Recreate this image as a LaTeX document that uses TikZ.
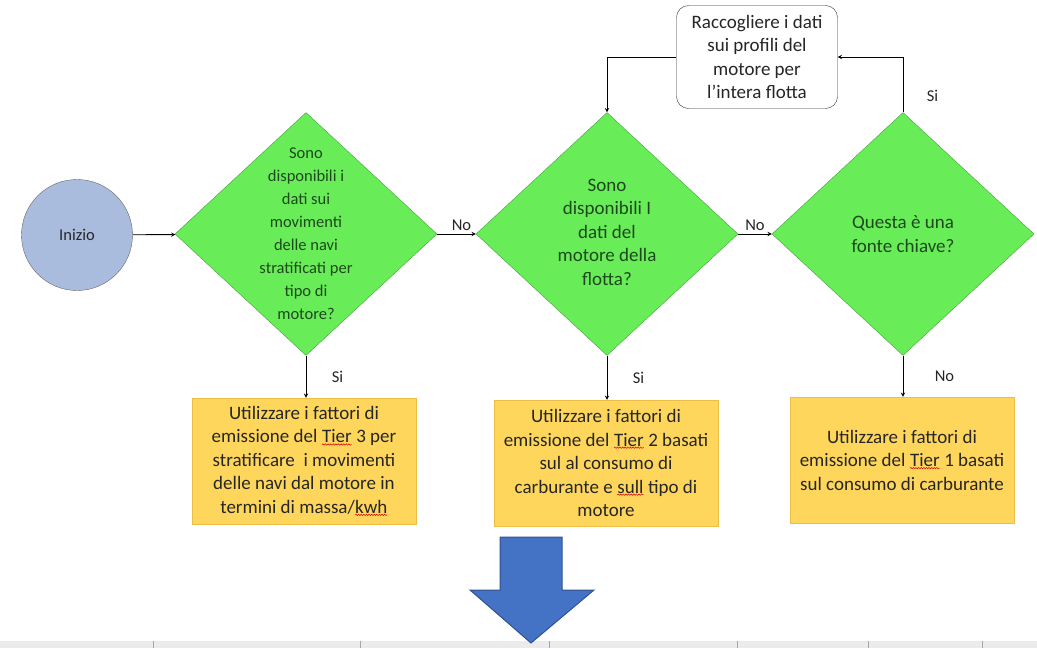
\documentclass[tikz,border=0pt]{standalone}
\usepackage{fontspec}
\setmainfont{Carlito}
\usepackage{tikz}
\usetikzlibrary{shapes.geometric, arrows, decorations.pathmorphing}
\definecolor{qgreen}{RGB}{104,236,88}
\definecolor{qgreenline}{RGB}{70,160,60}
\definecolor{qtextcol}{RGB}{30,72,30}
\definecolor{tyellow}{RGB}{255,214,92}
\definecolor{tyellowline}{RGB}{236,190,70}
\definecolor{sblue}{RGB}{170,188,222}
\definecolor{bigblue}{RGB}{68,114,196}
\definecolor{bigblueline}{RGB}{47,82,143}
\tikzstyle{arrow} = [line width=0.9pt,->,>=stealth]
\tikzstyle{txt} = [align=center, text=black!85, font=\fontsize{19}{23.5}\selectfont]
\tikzstyle{lbl} = [text=black!85, font=\fontsize{16.5}{20}\selectfont]
\tikzstyle{qtxt} = [txt, text=qtextcol]
\tikzstyle{startnode} = [circle, draw=black!60, fill=sblue, minimum size=111pt, txt, font=\fontsize{16.5}{20}\selectfont]
\tikzstyle{decision} = [diamond, draw=qgreenline, fill=qgreen, minimum width=262pt, minimum height=243pt, inner sep=0pt]
\tikzstyle{tierbox} = [rectangle, draw=tyellowline, fill=tyellow, minimum width=224pt, minimum height=126pt, txt]
\tikzstyle{collectbox} = [rectangle, rounded corners=12pt, draw=black!80, fill=white, minimum width=161pt, minimum height=103pt, txt]
% red spell-check wave under a word
\newcommand{\spellmark}[1]{\tikz[baseline=(sw.base)]{\node[shape=rectangle, inner sep=0pt, outer sep=0pt, minimum width=0pt, minimum height=0pt, draw=none, fill=none, align=left] (sw) {#1};
	\draw[red!85!black, line width=0.5pt, decorate, decoration={snake, amplitude=0.7pt, segment length=2.6pt}] ([yshift=-1.5pt]sw.south west) -- ([yshift=-1.5pt]sw.south east);}}

\begin{document}
\begin{tikzpicture}[x=1pt, y=-1pt]
		\useasboundingbox (0,0) rectangle (1037,648);
		% strip of the sheet below
		\fill[black!8] (0,641) rectangle (1037,648);
		\foreach \xs in {153,360,549,737,868,982}
			\draw[black!35] (\xs,641) -- (\xs,648);

		\node (start) [startnode] at (77,235) {Inizio};

		\node (q1) [decision] at (306,234) {};
		\node (q1txt) [qtxt, font=\fontsize{16.5}{23}\selectfont] at (q1) {Sono\\disponibili i\\dati sui\\movimenti\\delle navi\\stratificati per\\tipo di\\motore?};
		\node (q2) [decision] at (607,234) {};
		\node (q2txt) [qtxt] at (607,232) {Sono\\disponibili I\\dati del\\motore della\\flotta?};
		\node (q3) [decision] at (903,234) {};
		\node (q3txt) [qtxt] at (q3) {Questa è una\\fonte chiave?};

		\node (collect) [collectbox] at (757,57) {Raccogliere i dati\\sui profili del\\motore per\\l'intera flotta};

		\node (tier3) [tierbox] at (304,461) {Utilizzare i fattori di\\emissione del \spellmark{Tier} 3 per\\stratificare \ i movimenti\\delle navi dal motore in\\termini di massa/\spellmark{kwh}};
		\node (tier2) [tierbox] at (606,463) {Utilizzare i fattori di\\emissione del \spellmark{Tier} 2 basati\\sul al consumo di\\carburante e \spellmark{sull} tipo di\\motore};
		\node (tier1) [tierbox] at (902,460) {Utilizzare i fattori di\\emissione del \spellmark{Tier} 1 basati\\sul consumo di carburante};

		\draw [arrow] (start) -- (q1);
		\draw [arrow] (q1.east) -- node [lbl, above, xshift=5pt] {No} (q2.west);
		\draw [arrow] (q2.east) -- node [lbl, above] {No} (q3.west);
		\draw [arrow] (q1.south) -- node [lbl, right, xshift=22pt] {Si} (q1.south |- tier3.north);
		\draw [arrow] (q2.south) -- node [lbl, right, xshift=22pt] {Si} (q2.south |- tier2.north);
		\draw [arrow] (q3.south) -- node [lbl, right, xshift=28pt] {No} (q3.south |- tier1.north);
		\draw [arrow] (q3.north) -- node [lbl, pos=0.3, right, xshift=20pt] {Si} (q3.north |- collect.east) -- (collect.east);
		\draw [arrow] (collect.west) -| (q2.north);

		% big arrow at the bottom
		\filldraw[fill=bigblue, draw=bigblueline, line width=1pt] (500,537) -- (562,537) -- (562,590) -- (594,590) -- (531,643) -- (470,590) -- (500,590) -- cycle;
\end{tikzpicture}
\end{document}
